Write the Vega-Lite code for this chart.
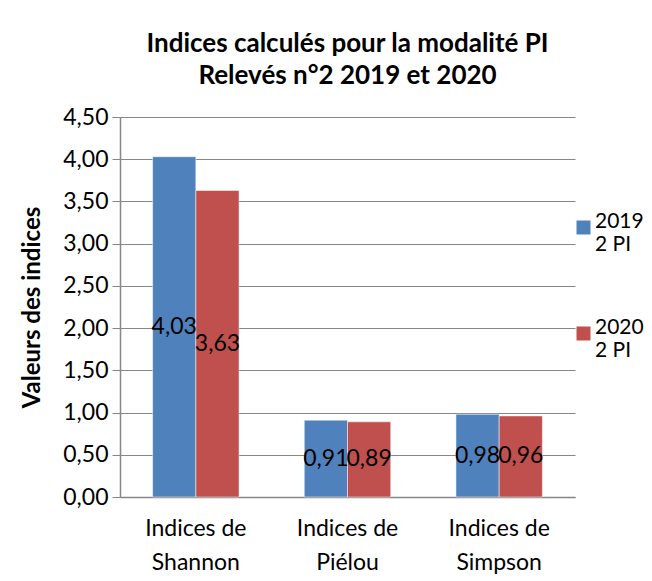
{
  "$schema": "https://vega.github.io/schema/vega-lite/v6.json",
  "width": 455,
  "height": 380,
  "autosize": {"type": "none"},
  "padding": {"left": 120, "top": 117, "right": 77, "bottom": 84},
  "background": "white",
  "title": {
    "text": ["Indices calculés pour la modalité PI", "Relevés n°2 2019 et 2020"],
    "fontSize": 26,
    "font": "Lato",
    "fontWeight": "bold",
    "lineHeight": 32,
    "anchor": "middle",
    "offset": 17,
    "color": "black"
  },
  "data": {
    "values": [
      {"indice": "Indices de Shannon", "serie": "2019", "valeur": 4.03},
      {"indice": "Indices de Shannon", "serie": "2020", "valeur": 3.63},
      {"indice": "Indices de Piélou", "serie": "2019", "valeur": 0.91},
      {"indice": "Indices de Piélou", "serie": "2020", "valeur": 0.89},
      {"indice": "Indices de Simpson", "serie": "2019", "valeur": 0.98},
      {"indice": "Indices de Simpson", "serie": "2020", "valeur": 0.96}
    ]
  },
  "transform": [
    {"calculate": "datum.valeur / 2", "as": "mid"},
    {"calculate": "replace(format(datum.valeur, '.2f'), '.', ',')", "as": "lab"}
  ],
  "encoding": {
    "x": {
      "field": "indice",
      "type": "nominal",
      "sort": null,
      "scale": {"paddingInner": 0.43, "paddingOuter": 0.215},
      "axis": {
        "title": null,
        "labelAngle": 0,
        "labelFontSize": 23,
        "labelFont": "Lato",
        "labelColor": "black",
        "labelExpr": "[slice(datum.label, 0, 10), slice(datum.label, 11)]",
        "labelLineHeight": 34,
        "labelBaseline": "middle",
        "labelPadding": 31,
        "ticks": false,
        "domainColor": "#868686",
        "domainWidth": 1.5
      }
    },
    "xOffset": {"field": "serie", "type": "nominal", "sort": ["2019", "2020"]}
  },
  "layer": [
    {
      "mark": {"type": "bar", "stroke": "white", "strokeWidth": 0.5},
      "encoding": {
        "y": {
          "field": "valeur",
          "type": "quantitative",
          "scale": {"domain": [0, 4.5], "nice": false},
          "axis": {
            "values": [0, 0.5, 1, 1.5, 2, 2.5, 3, 3.5, 4, 4.5],
            "labelExpr": "replace(format(datum.value, '.2f'), '.', ',')",
            "labelFontSize": 23,
            "labelFont": "Lato",
            "labelColor": "black",
            "labelPadding": 4,
            "gridColor": "#868686",
            "gridWidth": 1.2,
            "domainColor": "#868686",
            "domainWidth": 1.5,
            "tickColor": "#868686",
            "tickSize": 8,
            "title": "Valeurs des indices",
            "titleFontSize": 24,
            "titleFont": "Lato",
            "titleFontWeight": "bold",
            "titleColor": "black",
            "titlePadding": 18
          }
        },
        "color": {
          "field": "serie",
          "type": "nominal",
          "scale": {"domain": ["2019", "2020"], "range": ["#4F81BD", "#C0504D"]},
          "legend": {
            "orient": "none",
            "legendX": 453,
            "legendY": 100,
            "title": null,
            "padding": 0,
            "symbolType": "square",
            "symbolSize": 196,
            "symbolStrokeWidth": 0,
            "labelFontSize": 21,
            "labelFont": "Lato",
            "labelColor": "black",
            "labelExpr": "[datum.label, '2 PI']",
            "labelBaseline": "alphabetic",
            "labelLineHeight": 36,
            "labelOffset": 1,
            "rowPadding": 61
          }
        }
      }
    },
    {
      "mark": {"type": "text", "fontSize": 23, "font": "Lato", "color": "black"},
      "encoding": {
        "y": {"field": "mid", "type": "quantitative"},
        "text": {"field": "lab"}
      }
    }
  ],
  "config": {"view": {"stroke": null}}
}
